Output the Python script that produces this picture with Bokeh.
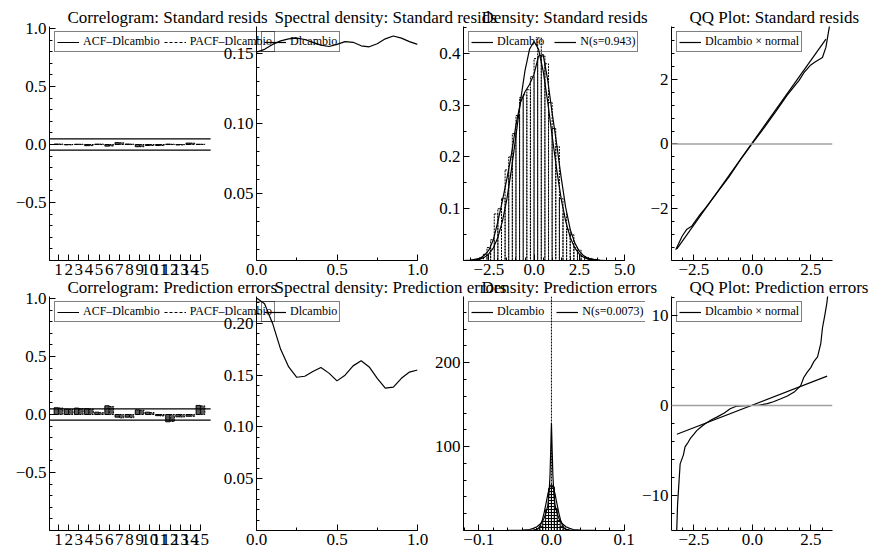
import numpy as np
from bokeh.plotting import figure
from bokeh.layouts import row, column
from bokeh.models import (Range1d, FixedTicker, Legend, LegendItem, Span,
                          AllLabels, ColumnDataSource)
from bokeh.transform import dodge
from bokeh.embed import file_html
from bokeh.resources import INLINE

FONT = "Liberation Serif"
TICK_FONT = "Liberation Serif, Liberation Sans"

# ---------------- data ----------------
lags = [1, 2, 3, 4, 5, 6, 7, 8, 9, 10, 11, 12, 13, 14, 15]
lag_labels = ["1", "2", "3", "4", "5", "6", "7", "8", "9", "10", "11", "12", "13", "14", "15"]
acf_std = [0.004, -0.003, 0.002, -0.010, 0.003, -0.014, 0.016, 0.004, -0.019, -0.009,
           -0.009, 0.003, -0.004, 0.012, 0.002]
pacf_std = [0.004, -0.003, 0.002, -0.010, 0.003, -0.013, 0.015, 0.003, -0.019, -0.009,
            -0.009, 0.002, -0.004, 0.012, 0.002]
acf_pred = [0.058, 0.046, 0.055, 0.050, 0.020, 0.075, -0.023, -0.023, 0.040, 0.020,
            -0.010, -0.063, -0.020, -0.015, 0.078]
pacf_pred = [0.056, 0.043, 0.051, 0.046, 0.016, 0.069, -0.029, -0.027, 0.037, 0.016,
             -0.012, -0.060, -0.022, -0.016, 0.074]
band_std = 0.048
band_pred = 0.048

spec_freq = [0.0, 0.05, 0.1, 0.15, 0.2, 0.25, 0.3, 0.35, 0.4, 0.45, 0.5,
             0.55, 0.6, 0.65, 0.7, 0.75, 0.8, 0.85, 0.9, 0.95, 1.0]
spec_std = [0.151, 0.153, 0.1565, 0.159, 0.1605, 0.161, 0.160, 0.158, 0.156, 0.155, 0.1565,
            0.1585, 0.158, 0.1555, 0.1548, 0.157, 0.1605, 0.1625, 0.161, 0.1585, 0.1565]
spec_pred = [0.2245, 0.219, 0.200, 0.175, 0.158, 0.148, 0.149, 0.1535, 0.1575, 0.152, 0.1445,
             0.150, 0.159, 0.164, 0.158, 0.147, 0.1375, 0.1385, 0.147, 0.153, 0.155]

dens_std_x = [-3.9, -3.5, -3.0, -2.75, -2.5, -2.25, -2.0, -1.75, -1.5, -1.25, -1.0, -0.75,
              -0.5, -0.25, 0.0, 0.25, 0.5, 0.75, 1.0, 1.25, 1.5, 1.75, 2.0, 2.25, 2.5,
              2.75, 3.0, 3.5, 4.0, 4.5, 5.0]
kde_std = [0.0, 0.001, 0.004, 0.010, 0.020, 0.040, 0.075, 0.115, 0.158, 0.205, 0.262, 0.305,
           0.326, 0.340, 0.360, 0.395, 0.398, 0.350, 0.285, 0.225, 0.160, 0.102, 0.060, 0.034,
           0.018, 0.009, 0.004, 0.001, 0.0, 0.0, 0.0]
norm_std = [0.0, 0.0004, 0.0027, 0.006, 0.0126, 0.0245, 0.0446, 0.0756, 0.119, 0.176, 0.241,
            0.308, 0.367, 0.408, 0.423, 0.408, 0.367, 0.308, 0.241, 0.176, 0.119, 0.0756,
            0.0446, 0.0245, 0.0126, 0.006, 0.0027, 0.0004, 0.0, 0.0, 0.0]
hist_std_x = [-2.9, -2.7, -2.5, -2.3, -2.1, -1.9, -1.7, -1.5, -1.3, -1.1, -0.9, -0.7, -0.5,
              -0.3, -0.1, 0.1, 0.3, 0.5, 0.7, 0.9, 1.1, 1.3, 1.5, 1.7, 1.9, 2.1, 2.3, 2.5,
              2.7, 2.9, 3.1, 3.3, 3.5]
hist_std_h = [0.005, 0.012, 0.025, 0.040, 0.090, 0.100, 0.120, 0.175, 0.200, 0.245, 0.280,
              0.315, 0.320, 0.330, 0.355, 0.390, 0.430, 0.395, 0.380, 0.305, 0.255, 0.220,
              0.120, 0.090, 0.060, 0.050, 0.025, 0.020, 0.008, 0.006, 0.004, 0.002, 0.002]
hist_std_w = 0.2

dens_pred_x = [-0.12, -0.06, -0.04, -0.03, -0.025, -0.02, -0.015, -0.0125, -0.01, -0.0075,
               -0.005, -0.0035, -0.002, -0.001, 0.0, 0.001, 0.002, 0.0035, 0.005, 0.0075,
               0.01, 0.0125, 0.015, 0.02, 0.025, 0.03, 0.04, 0.06, 0.1]
kde_pred = [0.0, 0.1, 0.5, 1.2, 2.5, 4.5, 8.0, 11.0, 15.0, 21.0, 30.0, 42.0, 65.0, 95.0,
            128.0, 95.0, 65.0, 42.0, 30.0, 21.0, 15.0, 11.0, 8.0, 4.5, 2.5, 1.2, 0.5, 0.1, 0.0]
norm_pred_x = [-0.12, -0.03, -0.025, -0.02, -0.0175, -0.015, -0.0125, -0.01, -0.0075, -0.005,
               -0.0025, 0.0, 0.0025, 0.005, 0.0075, 0.01, 0.0125, 0.015, 0.0175, 0.02, 0.025,
               0.03, 0.1]
norm_pred = [0.0, 0.0, 0.15, 1.3, 3.1, 6.6, 12.6, 21.4, 32.2, 43.2, 51.5, 54.6, 51.5, 43.2,
             32.2, 21.4, 12.6, 6.6, 3.1, 1.3, 0.15, 0.0, 0.0]
hist_pred_x = [-0.026, -0.022, -0.018, -0.014, -0.010, -0.006, -0.002, 0.002, 0.006, 0.010,
               0.014, 0.018, 0.022, 0.026]
hist_pred_h = [0.3, 1.0, 2.0, 5.0, 11.0, 25.0, 50.0, 52.0, 26.0, 12.0, 5.0, 2.0, 1.0, 0.3]
hist_pred_w = 0.004
pred_mode = 0.0

qq_std_x = [-3.28, -3.0, -2.8, -2.6, -2.45, -2.2, -2.0, -1.5, -1.0, -0.5, 0.0, 0.5, 1.0,
            1.5, 2.0, 2.2, 2.5, 2.7, 3.0, 3.15, 3.3]
qq_std_y = [-3.28, -2.85, -2.64, -2.55, -2.4, -2.15, -1.98, -1.5, -1.02, -0.48, 0.02, 0.5,
            1.0, 1.52, 1.97, 2.2, 2.45, 2.55, 2.68, 3.0, 3.65]
qq_std_ref_x = [-3.23, 3.15]
qq_std_ref_y = [-3.25, 3.25]
qq_pred_x = [-3.25, -3.2, -3.09, -2.95, -2.88, -2.75, -2.66, -2.5, -2.38, -2.2, -2.02, -1.75,
             -1.52, -1.2, -0.95, -0.66, -0.3, 0.0, 0.3, 0.64, 0.9, 1.22, 1.5, 1.79, 2.07,
             2.2, 2.35, 2.5, 2.64, 2.79, 2.93, 3.0, 3.1, 3.19, 3.28]
qq_pred_y = [-15.0, -11.0, -6.5, -5.5, -4.6, -4.1, -3.7, -3.2, -2.8, -2.4, -2.04, -1.6,
             -1.3, -0.85, -0.37, -0.07, -0.02, 0.0, 0.03, 0.19, 0.4, 0.74, 1.05, 1.48, 2.2,
             3.1, 3.7, 4.2, 4.9, 5.4, 6.9, 8.6, 10.0, 11.4, 13.5]
qq_pred_ref_x = [-3.23, 3.2]
qq_pred_ref_y = [-3.2, 3.25]

# tick values / labels
corr_y_ticks = [-1.0, -0.5, 0.0, 0.5, 1.0]
corr_y_labels = ["", "\u22120.5", "0.0", "0.5", "1.0"]
spec_x_ticks = [0.0, 0.5, 1.0]
spec_x_labels = ["0.0", "0.5", "1.0"]
spec_std_y_ticks = [0.05, 0.10, 0.15]
spec_std_y_labels = ["0.05", "0.10", "0.15"]
spec_pred_y_ticks = [0.05, 0.10, 0.15, 0.20]
spec_pred_y_labels = ["0.05", "0.10", "0.15", "0.20"]
dens_std_x_ticks = [-2.5, 0.0, 2.5, 5.0]
dens_std_x_labels = ["\u22122.5", "0.0", "2.5", "5.0"]
dens_std_y_ticks = [0.1, 0.2, 0.3, 0.4]
dens_std_y_labels = ["0.1", "0.2", "0.3", "0.4"]
dens_pred_x_ticks = [-0.1, 0.0, 0.1]
dens_pred_x_labels = ["\u22120.1", "0.0", "0.1"]
dens_pred_y_ticks = [100, 200]
dens_pred_y_labels = ["100", "200"]
qq_x_ticks = [-2.5, 0.0, 2.5]
qq_x_labels = ["\u22122.5", "0.0", "2.5"]
qq_std_y_ticks = [-2, 0, 2]
qq_std_y_labels = ["\u22122", "0", "2"]
qq_pred_y_ticks = [-10, 0, 10]
qq_pred_y_labels = ["\u221210", "0", "10"]

# ---------------- layout helpers ----------------
FH = 234
L, T, B = 49, 26, 22
COL_FW = [240, 161, 182, 161]      # frame widths
COL_R = [20, 100, 25, 38]          # right borders
COL_ML = [0, -102, -103, -48]      # left margins (overlap of canvases)


def minor_list(rng, step):
    if step is None:
        return []
    start = np.floor(rng[0] / step) * step
    vals = start + step * np.arange(0, int((rng[1] - start) / step) + 2)
    return [float(round(v, 10)) for v in vals if rng[0] - 1e-9 <= v <= rng[1] + 1e-9]


def style_axis(ax, rng, ticks, labels, minor_step):
    ax.ticker = FixedTicker(ticks=ticks, minor_ticks=minor_list(rng, minor_step))
    ax.major_label_overrides = {t: s for t, s in zip(ticks, labels)}
    ax.major_label_policy = AllLabels()
    ax.major_tick_in = 6
    ax.major_tick_out = 0
    ax.minor_tick_in = 3
    ax.minor_tick_out = 0
    ax.axis_line_color = "black"
    ax.major_tick_line_color = "black"
    ax.minor_tick_line_color = "black"
    ax.major_label_text_font = TICK_FONT
    ax.major_label_text_font_size = "17px"
    ax.major_label_text_font_style = "normal"
    ax.major_label_text_color = "black"
    ax.major_label_standoff = 3


def panel(title, col, xr, yr, xt, xl, xm, yt, yl, ym, xbounds=None):
    R = COL_R[col]
    FW = COL_FW[col]
    p = figure(width=L + FW + R, height=T + FH + B,
               x_range=Range1d(*xr), y_range=Range1d(*yr),
               output_backend="svg", toolbar_location=None,
               min_border_left=L, min_border_right=R,
               min_border_top=T, min_border_bottom=B,
               background_fill_color=None, border_fill_color=None,
               outline_line_color=None)
    p.xgrid.visible = False
    p.ygrid.visible = False
    p.title.text = title
    p.title.align = "left"
    p.title.offset = 18
    p.title.standoff = 0
    p.title.text_font = FONT
    p.title.text_font_size = "17px"
    p.title.text_font_style = "normal"
    p.title.text_color = "black"
    style_axis(p.xaxis[0], xbounds if xbounds else xr, xt, xl, xm)
    style_axis(p.yaxis[0], yr, yt, yl, ym)
    if xbounds:
        p.xaxis.bounds = xbounds
    if col > 0:
        p.margin = (0, 0, 0, COL_ML[col])
    return p


def add_legend(p, items, spacing=10):
    leg = Legend(items=[LegendItem(label=lab, renderers=[r]) for lab, r in items],
                 location="top_left", orientation="horizontal", margin=5, padding=2,
                 spacing=spacing, glyph_width=22, glyph_height=12, label_height=12,
                 label_standoff=4, label_text_font=FONT, label_text_font_size="12px",
                 label_text_color="black", border_line_color="black",
                 border_line_width=1, background_fill_alpha=0)
    p.add_layout(leg)


def correlogram(title, acf, pacf, band):
    x0 = 0.11
    x1 = x0 + COL_FW[0] / 10.14
    p = panel(title, 0, (x0, x1), (-1.0, 1.017), lags, lag_labels, None,
              corr_y_ticks, corr_y_labels, 0.1, xbounds=(x0, float(lags[-1])))
    src = ColumnDataSource(dict(lag=lags, acf=acf, pacf=pacf))
    p.vbar(x=dodge("lag", -0.22, range=p.x_range), width=0.42, top="acf", bottom=0,
           source=src, fill_color="#5a5a5a", line_color="black", line_width=1)
    p.vbar(x=dodge("lag", 0.22, range=p.x_range), width=0.42, top="pacf", bottom=0,
           source=src, fill_color="#5a5a5a", line_color="black", line_width=1,
           line_dash="2 1")
    band_end = lags[-1] + 1
    p.segment(x0=[x0, x0], y0=[band, -band], x1=[band_end, band_end], y1=[band, -band],
              line_color="black", line_width=1.2)
    # single-point lines: invisible in the plot, they supply the legend line samples
    r1 = p.line(x=lags[:1], y=acf[:1], line_color="black", line_width=1)
    r2 = p.line(x=lags[:1], y=pacf[:1], line_color="black", line_width=1, line_dash="3 2")
    add_legend(p, [("ACF\u2013Dlcambio", r1), ("PACF\u2013Dlcambio", r2)], spacing=4)
    return p


def spectral(title, dens, yr, yt, yl):
    p = panel(title, 1, (0.0, 1.0), yr, spec_x_ticks, spec_x_labels, 0.25, yt, yl, 0.01)
    r = p.line(x=spec_freq, y=dens, line_color="black", line_width=1.2)
    add_legend(p, [("Dlcambio", r)])
    return p


def qq(title, x, y, rx, ry, yr, yt, yl, ym):
    p = panel(title, 3, (-3.46, 3.43), yr, qq_x_ticks, qq_x_labels, 0.5, yt, yl, ym)
    p.add_layout(Span(location=0, dimension="width", line_color="#a0a0a0", line_width=1.5))
    p.line(x=rx, y=ry, line_color="black", line_width=1.2)
    r = p.line(x=x, y=y, line_color="black", line_width=1.2)
    add_legend(p, [("Dlcambio \u00d7 normal", r)])
    return p


# ---------------- row 1 ----------------
p1 = correlogram("Correlogram: Standard resids", acf_std, pacf_std, band_std)
p2 = spectral("Spectral density: Standard resids", spec_std, (0.0021, 0.1693),
              spec_std_y_ticks, spec_std_y_labels)

d3_lo = -3.9
d3_hi = d3_lo + COL_FW[2] / (161 / 8.9)
p3 = panel("Density: Standard resids", 2, (d3_lo, d3_hi), (0.0, 0.452),
           dens_std_x_ticks, dens_std_x_labels, 0.5, dens_std_y_ticks, dens_std_y_labels, 0.05,
           xbounds=(d3_lo, 5.0))
p3.vbar(x=hist_std_x, width=hist_std_w, top=hist_std_h, bottom=0, fill_color=None,
        line_color="black", line_width=1, line_dash="2 1")
r3a = p3.line(x=dens_std_x, y=kde_std, line_color="black", line_width=1.2)
r3b = p3.line(x=dens_std_x, y=norm_std, line_color="black", line_width=1.2)
add_legend(p3, [("Dlcambio", r3a), ("N(s=0.943)", r3b)], spacing=10)

p4 = qq("QQ Plot: Standard resids", qq_std_x, qq_std_y, qq_std_ref_x, qq_std_ref_y,
        (-3.61, 3.64), qq_std_y_ticks, qq_std_y_labels, 0.4)

# ---------------- row 2 ----------------
p5 = correlogram("Correlogram: Prediction errors", acf_pred, pacf_pred, band_pred)
p6 = spectral("Spectral density: Prediction errors", spec_pred, (0.0, 0.226),
              spec_pred_y_ticks, spec_pred_y_labels)

d7_lo = -0.121
d7_hi = d7_lo + COL_FW[2] / (161 / 0.2215)
p7 = panel("Density: Prediction errors", 2, (d7_lo, d7_hi), (0.0, 279.0),
           dens_pred_x_ticks, dens_pred_x_labels, 0.02, dens_pred_y_ticks, dens_pred_y_labels,
           20, xbounds=(d7_lo, 0.1005))
p7.vbar(x=hist_pred_x, width=hist_pred_w, top=hist_pred_h, bottom=0, fill_color="white",
        fill_alpha=0, line_color="black", line_width=1, hatch_pattern="horizontal_line",
        hatch_color="black", hatch_scale=3, hatch_weight=1)
p7.add_layout(Span(location=pred_mode, dimension="height", line_color="black", line_width=1,
                   line_dash="2 1"))
r7a = p7.line(x=dens_pred_x, y=kde_pred, line_color="black", line_width=1.2)
r7b = p7.line(x=norm_pred_x, y=norm_pred, line_color="black", line_width=1.2)
add_legend(p7, [("Dlcambio", r7a), ("N(s=0.0073)", r7b)], spacing=12)

p8 = qq("QQ Plot: Prediction errors", qq_pred_x, qq_pred_y, qq_pred_ref_x, qq_pred_ref_y,
        (-13.9, 12.1), qq_pred_y_ticks, qq_pred_y_labels, 2)

row1 = row(p1, p2, p3, p4)
row2 = row(p5, p6, p7, p8)
row2.margin = (-12, 0, 0, 0)
layout = column(row1, row2)

open("out.html", "w").write(file_html(layout, INLINE))
